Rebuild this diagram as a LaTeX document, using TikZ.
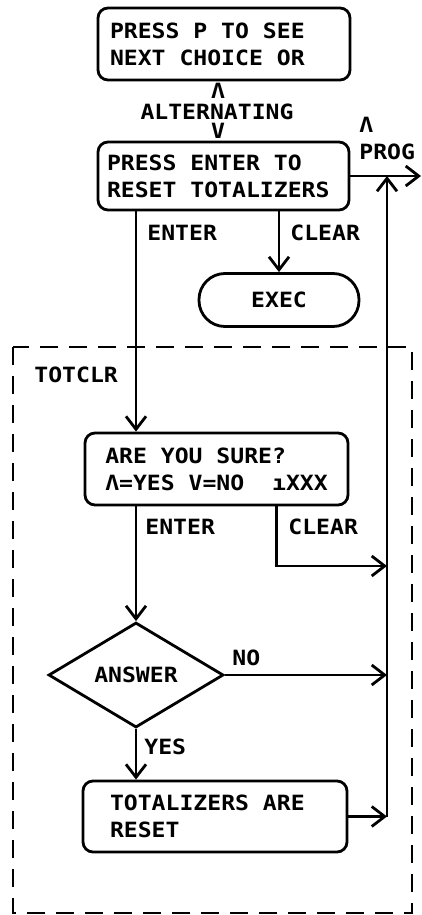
\documentclass[tikz,border=0pt]{standalone}
\usepackage{fontspec}
\newfontfamily\lcdfont{DejaVu Sans Mono}[FakeStretch=1.1]
\DeclareRobustCommand\lcdtype{\lcdfont\bfseries\fontsize{21}{27}\selectfont}
\newcommand\cellgap{\hspace*{13.9pt}}
\usetikzlibrary{shapes.geometric,arrows.meta,positioning}

\begin{document}
\begin{tikzpicture}[x=1pt, y=-1pt, line width=2.8pt,
    every node/.style={font=\lcdtype},
    panel/.style={draw, rounded corners=10pt, align=left, minimum height=72pt, inner ysep=4pt},
    arr/.style={-{Straight Barb[length=13pt,width=20pt]}},
    lbl/.style={anchor=west, inner sep=0pt},
    altmark/.style={inner sep=0pt},
    frame/.style={dash pattern=on 18pt off 11pt}]
  \useasboundingbox (0,0) rectangle (422,915);

  % Prompt screens
  \node[panel, text width=228pt, inner xsep=12pt] (see) at (224,44) {PRESS\cellgap P\cellgap TO\cellgap SEE\\NEXT\cellgap CHOICE\cellgap OR};
  \node[panel, text width=233pt, inner xsep=9pt, minimum height=68pt] (reset) at (223.5,176) {PRESS\cellgap ENTER\cellgap TO\\RESET\cellgap TOTALIZERS};
  \node[draw, rounded corners=26pt, minimum width=160pt, minimum height=53pt] (exec) at (279,300) {EXEC};

  % Alternating marks
  \node[altmark] (altup) at (218,91) {Λ};
  \node[altmark] (alt) at (217,112) {ALTERNATING};
  \node[altmark] (altdn) at (218,131) {V};

  % Prog exit
  \node[lbl] (progup) at (358,125) {Λ};
  \node[lbl] (prog) at (358,152) {PROG};
  \coordinate (progend) at (421,176);
  \coordinate (railtop) at (387,176);
  \coordinate (railbot) at (387,816.5);
  \coordinate (clrjoin) at (387,566);

  % TOTCLR routine
  \draw[frame] (13,347) rectangle (412,913);
  \node[lbl] (totclr) at (33,375) {TOTCLR};
  \node[panel, minimum width=263pt] (sure) at (216.5,469) {ARE\cellgap YOU\cellgap SURE?\\Λ=YES\cellgap V=NO\cellgap\cellgap ıXXX};
  \node[draw, diamond, aspect=1.67, inner sep=0pt, minimum width=175pt, minimum height=105pt] (ans) at (136,675) {ANSWER};
  \node[panel, text width=210pt, inner xsep=27pt, minimum height=71pt] (done) at (215,816.5) {TOTALIZERS\cellgap ARE\\RESET};

  % Key labels
  \node[lbl] (enter1) at (146,233) {ENTER};
  \node[lbl] (clear1) at (289,233) {CLEAR};
  \node[lbl] (enter2) at (144,527) {ENTER};
  \node[lbl] (clear2) at (287,527) {CLEAR};
  \node[lbl] (no) at (231,658) {NO};
  \node[lbl] (yes) at (143,747) {YES};

  % Connectors
  \draw[arr] (reset.east) -- (progend);
  \draw[arr] (railbot) -- (railtop);
  \draw[arr] (reset.south -| exec.north) -- (exec.north);
  \draw[arr] (reset.south -| ans.north) -- (sure.north -| ans.north);
  \draw[arr] (sure.south -| ans.north) -- (ans.north);
  \draw[arr] ([xshift=60pt]sure.south) |- (clrjoin);
  \draw[arr] (ans.east) -- (ans.east -| railtop);
  \draw[arr] (ans.south) -- (done.north -| ans.south);
  \draw[arr] (done.east) -- (railbot);
\end{tikzpicture}
\end{document}
